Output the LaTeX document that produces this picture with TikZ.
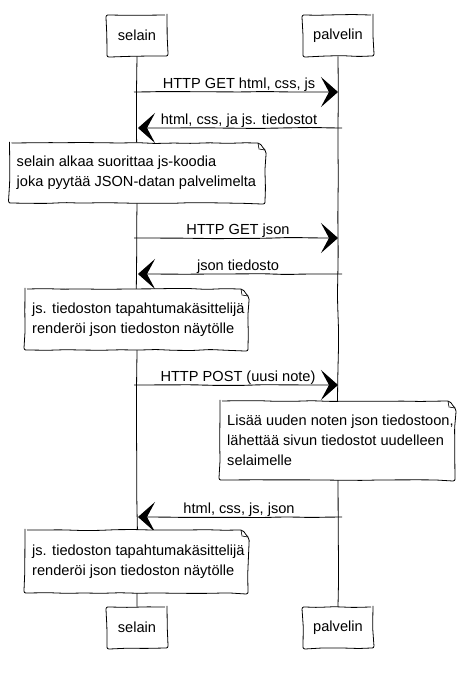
\documentclass[tikz,border=0pt]{standalone}
\usepackage{fontspec}
\setmainfont{Liberation Sans}
\usetikzlibrary{arrows.meta,decorations.pathmorphing,calc}
\newcommand\myfont{\fontsize{14.6}{20}\selectfont}
\newcommand\notebox[6]{%
  \draw[sketch, fill=white] (#2,#3) -- (#4-7,#3) -- (#4,#3+7) -- (#4,#5) -- (#2,#5) -- cycle;
  \draw[line width=0.6pt] (#4-7,#3) -- (#4-6,#3+6) -- (#4,#3+7);
  \node[notetext] (#1) at (#2+7,{(#3+#5)/2}) {#6};
}
\begin{document}
\begin{tikzpicture}[x=1pt,y=-1pt,
  sketch/.style={decorate, decoration={random steps,segment length=18pt,amplitude=0.5pt}, rounded corners=2pt, line width=0.8pt},
  actor/.style={draw, fill=white, sketch, minimum height=41pt, inner sep=0pt, font=\myfont},
  msg/.style={line width=0.9pt, decorate, decoration={random steps,segment length=25pt,amplitude=0.6pt,pre length=2pt,post length=18pt}, rounded corners=6pt, -{Stealth[length=17pt,width=30pt,inset=8pt]}},
  lbl/.style={anchor=base, inner sep=0pt, font=\myfont},
  notetext/.style={anchor=west, align=left, inner sep=0pt, font=\myfont},
  life/.style={line width=0.8pt, decorate, decoration={random steps,segment length=40pt,amplitude=0.8pt}, rounded corners=10pt}
]
\pgfmathsetseed{3}
\useasboundingbox (0,0) rectangle (465,673);
\fill[white] (0,0) rectangle (465,673);

\node[actor, minimum width=60pt] (selTop) at (137,35.5) {selain};
\node[actor, minimum width=70pt] (palTop) at (338,35.5) {palvelin};
\node[actor, minimum width=60pt] (selBot) at (137,627.5) {selain};
\node[actor, minimum width=70pt] (palBot) at (338,627.5) {palvelin};

\draw[life] (selTop.south) -- (selBot.north);
\draw[life] (palTop.south) -- (palBot.north);

% messages
\coordinate (s1) at (138,92);  \coordinate (p1) at (338,92);
\draw[msg] (s1) -- (p1);
\node[lbl] (l1) at ($(s1)!0.5!(p1)+(1,-4)$) {HTTP GET html, css, js};

\coordinate (s2) at (138,128); \coordinate (p2) at (338,128);
\draw[msg] (p2) -- (s2);
\node[lbl] (l2) at ($(s2)!0.5!(p2)+(1,-4)$) {html, css, ja js. tiedostot};

\notebox{n1}{9.5}{143}{265}{203}{selain alkaa suorittaa js-koodia\\joka pyytää JSON-datan palvelimelta}

\coordinate (s3) at (138,238); \coordinate (p3) at (338,238);
\draw[msg] (s3) -- (p3);
\node[lbl] (l3) at ($(s3)!0.5!(p3)+(0,-4)$) {HTTP GET json};

\coordinate (s4) at (138,274); \coordinate (p4) at (338,274);
\draw[msg] (p4) -- (s4);
\node[lbl] (l4) at ($(s4)!0.5!(p4)+(0,-4)$) {json tiedosto};

\notebox{n2}{25}{289}{248}{350}{js. tiedoston tapahtumakäsittelijä\\renderöi json tiedoston näytölle}

\coordinate (s5) at (138,385); \coordinate (p5) at (338,385);
\draw[msg] (s5) -- (p5);
\node[lbl] (l5) at ($(s5)!0.5!(p5)+(0,-4)$) {HTTP POST (uusi note)};

\notebox{n3}{220}{401}{455}{480}{Lisää uuden noten json tiedostoon,\\lähettää sivun tiedostot uudelleen\\selaimelle}

\coordinate (s6) at (138,517); \coordinate (p6) at (338,517);
\draw[msg] (p6) -- (s6);
\node[lbl] (l6) at ($(s6)!0.5!(p6)+(1,-4)$) {html, css, js, json};

\notebox{n4}{25}{530}{248}{593}{js. tiedoston tapahtumakäsittelijä\\renderöi json tiedoston näytölle}
\end{tikzpicture}
\end{document}
